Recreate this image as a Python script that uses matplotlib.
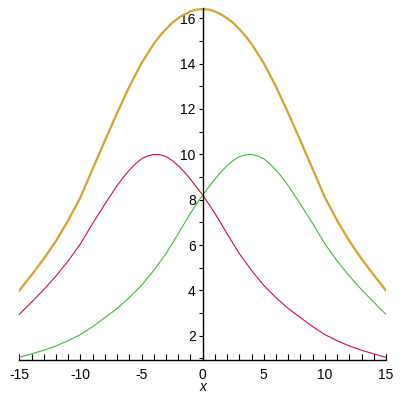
import matplotlib
matplotlib.use("Agg")
from matplotlib import pyplot as plt
from matplotlib.ticker import MultipleLocator

plt.rcParams['font.family'] = ['Liberation Sans', 'DejaVu Sans']
plt.rcParams['axes.unicode_minus'] = False

# values (denser near the peaks)
red_x = [-15, -14, -13, -12, -11, -10, -9, -8, -7, -6.5, -6, -5.5, -5, -4.5,
         -4, -3.5, -3, -2.5, -2, -1.5, -1, -0.5, 0, 0.5, 1, 2, 3, 4, 5, 6,
         7, 8, 9, 10, 11, 12, 13, 14, 15]
red = [2.94, 3.48, 4.03, 4.63, 5.30, 6.05, 6.95, 7.80, 8.62, 8.98, 9.30, 9.58,
       9.80, 9.93, 9.99, 9.98, 9.90, 9.73, 9.50, 9.22, 8.90, 8.56, 8.20, 7.81,
       7.40, 6.50, 5.62, 4.88, 4.22, 3.68, 3.20, 2.80, 2.40, 2.05, 1.78, 1.55,
       1.36, 1.20, 1.05]
green_x = [-15, -14, -13, -12, -11, -10, -9, -8, -7, -6, -5, -4, -3, -2, -1,
           -0.5, 0, 0.5, 1, 1.5, 2, 2.5, 3, 3.5, 4, 4.5, 5, 5.5, 6, 6.5, 7,
           8, 9, 10, 11, 12, 13, 14, 15]
green = [1.05, 1.20, 1.36, 1.55, 1.78, 2.05, 2.40, 2.80, 3.20, 3.68, 4.22,
         4.88, 5.62, 6.50, 7.40, 7.81, 8.20, 8.56, 8.90, 9.22, 9.50, 9.73,
         9.90, 9.98, 9.99, 9.93, 9.80, 9.58, 9.30, 8.98, 8.62, 7.80, 6.95,
         6.05, 5.30, 4.63, 4.03, 3.48, 2.94]
total_x = [-15, -14, -13, -12, -11, -10, -9, -8, -7, -6, -5, -4, -3.5, -3,
           -2.5, -2, -1.5, -1, -0.5, 0, 0.5, 1, 1.5, 2, 2.5, 3, 3.5, 4, 5, 6,
           7, 8, 9, 10, 11, 12, 13, 14, 15]
total = [3.99, 4.68, 5.39, 6.18, 7.08, 8.10, 9.35, 10.60, 11.82, 12.98, 14.02,
         14.87, 15.22, 15.52, 15.79, 16.00, 16.17, 16.30, 16.38, 16.40, 16.38,
         16.30, 16.17, 16.00, 15.79, 15.52, 15.22, 14.87, 14.02, 12.98, 11.82,
         10.60, 9.35, 8.10, 7.08, 6.18, 5.39, 4.68, 3.99]

fig = plt.figure(figsize=(4, 4), dpi=100)
ax = fig.add_axes([19.3 / 400, 40 / 400, (386 - 19.3) / 400, (360 - 8) / 400])

ax.plot(total_x, total, color="#d6a232", lw=1.6)
ax.plot(red_x, red, color="#cc1038", lw=0.8)
ax.plot(green_x, green, color="#3cbb3c", lw=0.8)

ax.set_xlim(-15, 15)
ax.set_ylim(0.93, 16.45)

ax.spines['top'].set_visible(False)
ax.spines['right'].set_visible(False)
ax.spines['left'].set_position(('data', 0))
ax.spines['left'].set_linewidth(1.0)
ax.spines['bottom'].set_linewidth(1.0)

ax.xaxis.set_major_locator(MultipleLocator(5))
ax.xaxis.set_minor_locator(MultipleLocator(1))
ax.yaxis.set_minor_locator(MultipleLocator(1))
ax.set_yticks([2, 4, 6, 8, 10, 12, 14, 16])

ax.tick_params(axis='x', which='both', direction='in', length=4, width=0.8,
               labelsize=10, pad=6)
ax.tick_params(axis='y', which='both', direction='out', length=3, width=0.8,
               labelsize=10, pad=2)

ax.set_xlabel("x", fontstyle='italic', fontsize=10, labelpad=-2)

fig.savefig("out.png", dpi=100)
